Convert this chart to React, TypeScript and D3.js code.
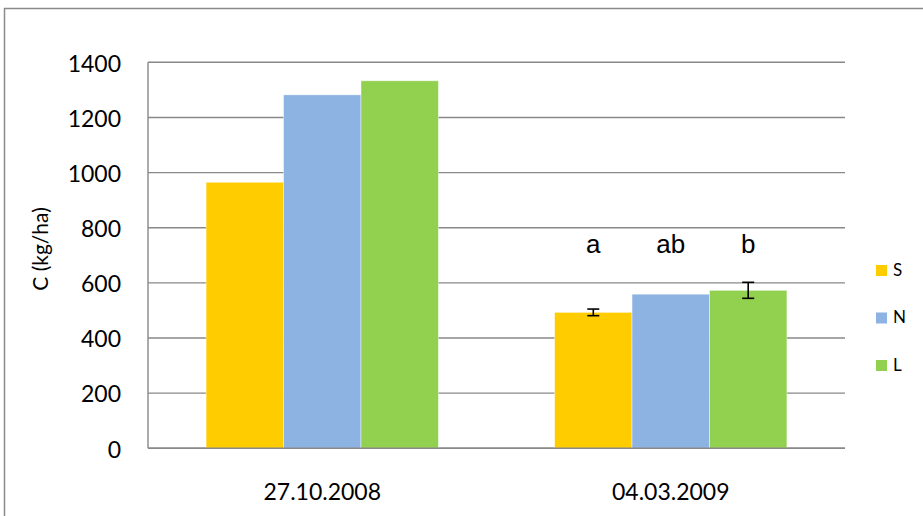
import React from "react";
import * as d3 from "d3";

const categories = ["27.10.2008", "04.03.2009"];
const seriesNames = ["S", "N", "L"];
const seriesColors = ["#FFCC00", "#8DB3E2", "#92D050"];
const valuesS = [965, 493];
const valuesN = [1282, 559];
const valuesL = [1333, 573];
const errorsS = [0, 12];
const errorsN = [0, 0];
const errorsL = [0, 29];
const lettersCat2 = ["a", "ab", "b"];
const yTicks = [0, 200, 400, 600, 800, 1000, 1200, 1400];

const seriesValues = [valuesS, valuesN, valuesL];
const seriesErrors = [errorsS, errorsN, errorsL];

export default function App() {
  const W = 923;
  const H = 516;
  const left = 148;
  const right = 845;
  const top = 62.3;
  const bottom = 448.3;

  const x = d3.scaleBand<string>().domain(categories).range([left, right]).padding(0);
  const y = d3.scaleLinear().domain([0, 1400]).range([bottom, top]);
  const bw = x.bandwidth();
  const barW = bw / 4.5;
  const xs = d3.scaleBand<string>().domain(seriesNames).range([0, 3 * barW]).padding(0);

  const tickFont = "Lato, 'Open Sans', sans-serif";

  return (
    <svg
      width={W}
      height={H}
      style={{ position: "absolute", left: 0, top: 0, background: "#fff" }}
    >
      {/* chart frame */}
      <path d={`M4.5,${H} L4.5,8.5 L${W},8.5`} fill="none" stroke="#8a8a8a" strokeWidth={1.5} />

      {/* gridlines */}
      {yTicks.map((t) => (
        <line key={t} x1={left} x2={right} y1={y(t)} y2={y(t)} stroke="#888" strokeWidth={1.4} />
      ))}

      {/* bars */}
      {seriesNames.map((s, si) =>
        categories.map((c, ci) => {
          const x0 = (x(c) as number) + 0.75 * barW + (xs(s) as number);
          const v = seriesValues[si][ci];
          return (
            <rect
              key={s + c}
              x={x0}
              y={y(v)}
              width={xs.bandwidth()}
              height={y(0) - y(v)}
              fill={seriesColors[si]}
              stroke="rgba(255,255,255,0.55)"
              strokeWidth={0.8}
            />
          );
        })
      )}

      {/* error bars */}
      {seriesNames.map((s, si) =>
        categories.map((c, ci) => {
          const e = seriesErrors[si][ci];
          if (!e) return null;
          const cx = (x(c) as number) + 0.75 * barW + (xs(s) as number) + xs.bandwidth() / 2;
          const v = seriesValues[si][ci];
          return (
            <g key={"e" + s + c} stroke="#000" strokeWidth={1.6}>
              <line x1={cx} x2={cx} y1={y(v + e)} y2={y(v - e)} />
              <line x1={cx - 6} x2={cx + 6} y1={y(v + e)} y2={y(v + e)} />
              <line x1={cx - 6} x2={cx + 6} y1={y(v - e)} y2={y(v - e)} />
            </g>
          );
        })
      )}

      {/* significance letters */}
      {seriesNames.map((s, si) => {
        const c = categories[1];
        const cx = (x(c) as number) + 0.75 * barW + (xs(s) as number) + xs.bandwidth() / 2;
        return (
          <text
            key={"l" + s}
            x={cx}
            y={y(708)}
            textAnchor="middle"
            fontFamily="'Liberation Sans', Arial, sans-serif"
            fontSize={26}
            fill="#000"
          >
            {lettersCat2[si]}
          </text>
        );
      })}

      {/* axes */}
      <line x1={left} x2={left} y1={top} y2={bottom} stroke="#888" strokeWidth={1.4} />
      <line x1={left} x2={right} y1={bottom} y2={bottom} stroke="#888" strokeWidth={1.4} />

      {/* y tick labels */}
      {yTicks.map((t) => (
        <text
          key={"t" + t}
          x={121}
          y={y(t) + 3.5}
          textAnchor="end"
          dominantBaseline="middle"
          fontFamily={tickFont}
          fontSize={23}
          fill="#000"
        >
          {t}
        </text>
      ))}

      {/* x labels */}
      {categories.map((c) => (
        <text
          key={"x" + c}
          x={(x(c) as number) + bw / 2}
          y={494}
          textAnchor="middle"
          dominantBaseline="middle"
          fontFamily={tickFont}
          fontSize={23}
          fill="#000"
        >
          {c}
        </text>
      ))}

      {/* y axis title */}
      <text
        transform={`translate(43,249) rotate(-90)`}
        textAnchor="middle"
        dominantBaseline="middle"
        fontFamily={tickFont}
        fontSize={21}
        fill="#000"
      >
        C (kg/ha)
      </text>

      {/* legend */}
      {seriesNames.map((s, i) => (
        <g key={"lg" + s} transform={`translate(876,${265 + i * 47.5})`}>
          <rect x={0} y={0} width={11} height={11} fill={seriesColors[i]} />
          <text
            x={17}
            y={6.5}
            dominantBaseline="middle"
            fontFamily={tickFont}
            fontSize={17}
            fill="#000"
          >
            {s}
          </text>
        </g>
      ))}
    </svg>
  );
}
